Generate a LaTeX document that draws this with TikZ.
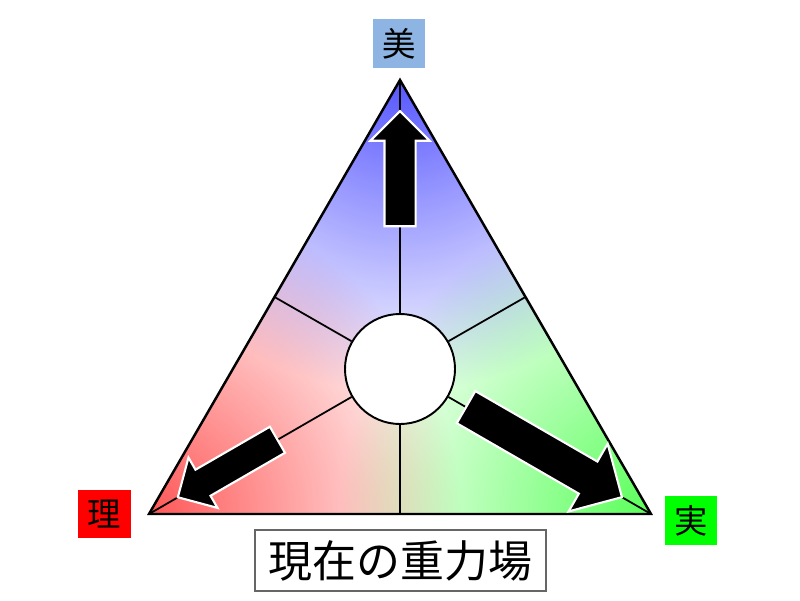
\documentclass[tikz,border=0pt]{standalone}
\usepackage{fontspec}
\newfontfamily\jpfont{Noto Sans CJK JP}
\usetikzlibrary{shapes.arrows,calc}
\definecolor{biblue}{RGB}{141,180,226}
% colour field: blue from the top, red from the left, green from the right corner
\pgfdeclarefunctionalshading{gravityfield}{\pgfpoint{-50bp}{-50bp}}{\pgfpoint{50bp}{50bp}}{}{
  2 copy 25 sub dup mul exch 0 sub dup mul add sqrt 27 div 1 exch sub dup 0 lt {pop 0} if
  3 1 roll
  2 copy -12.5 sub dup mul exch -21.65 sub dup mul add sqrt 27 div 1 exch sub dup 0 lt {pop 0} if
  3 1 roll
  2 copy -12.5 sub dup mul exch 21.65 sub dup mul add sqrt 27 div 1 exch sub dup 0 lt {pop 0} if
  3 1 roll pop pop
  2 index 0.66 mul 1 index 0.65 mul add 1 exch sub
  3 index 0.66 mul 3 index 0.66 mul add 1 exch sub
  3 index 0.66 mul 3 index 0.65 mul add 1 exch sub
  6 3 roll pop pop pop
}
\tikzset{
  vertexlabel/.style={inner sep=0pt, minimum width=1.05cm, minimum height=0.97cm,
    font=\jpfont\fontsize{19}{22}\selectfont},
  spoke/.style={line width=1pt},
  pusharrow/.style={single arrow, draw=white, fill=black, line width=1.2pt,
    single arrow head extend=#1}
}
\begin{document}
\begin{tikzpicture}
  \useasboundingbox (0,0) rectangle (16,12);
  \coordinate (bi) at (8,10.4);
  \coordinate (ri) at (2.98,1.72);
  \coordinate (jitsu) at (13.02,1.72);
  \coordinate (c) at (8,4.62);
  \coordinate (mleft) at ($(bi)!0.5!(ri)$);
  \coordinate (mright) at ($(bi)!0.5!(jitsu)$);
  \coordinate (mbottom) at ($(ri)!0.5!(jitsu)$);
  \begin{scope}
    \clip (bi) -- (ri) -- (jitsu) -- cycle;
    \shade[shading=gravityfield] ($(c)+(-5.78,-5.78)$) rectangle ($(c)+(5.78,5.78)$);
  \end{scope}
  \node[circle, draw, fill=white, line width=1.1pt, minimum size=2.2cm] (hub) at (c) {};
  \foreach \p in {bi,ri,jitsu,mleft,mright,mbottom}
    \draw[spoke] (hub) -- (\p);
  \draw[line width=1.4pt] (bi) -- (ri) -- (jitsu) -- cycle;
  % arrows
  \node[pusharrow=0.28cm, inner sep=0.29cm, minimum height=2.3cm, rotate=90]
    (uparrow) at ($(c)+(90:3.85)$) {};
  \node[pusharrow=0.28cm, inner sep=0.28cm, minimum height=2.3cm, rotate=210]
    (leftarrow) at ($(c)+(210:3.83)$) {};
  \node[pusharrow=0.41cm, inner sep=0.35cm, minimum height=3.6cm, rotate=-30]
    (rightarrow) at ($(c)+(-30:3.14)$) {};
  % labels
  \node[vertexlabel, fill=biblue] (bilabel) at (7.98,11.13) {美};
  \node[vertexlabel, fill=red] (rilabel) at (2.09,1.72) {理};
  \node[vertexlabel, fill=green] (jitsulabel) at (13.82,1.59) {実};
  \node[draw=black!60, line width=0.6pt, inner sep=0pt, minimum width=5.82cm,
    minimum height=1.22cm, font=\jpfont\fontsize{25}{30}\selectfont]
    (field) at (8.01,0.79) {現在の重力場};
\end{tikzpicture}
\end{document}
